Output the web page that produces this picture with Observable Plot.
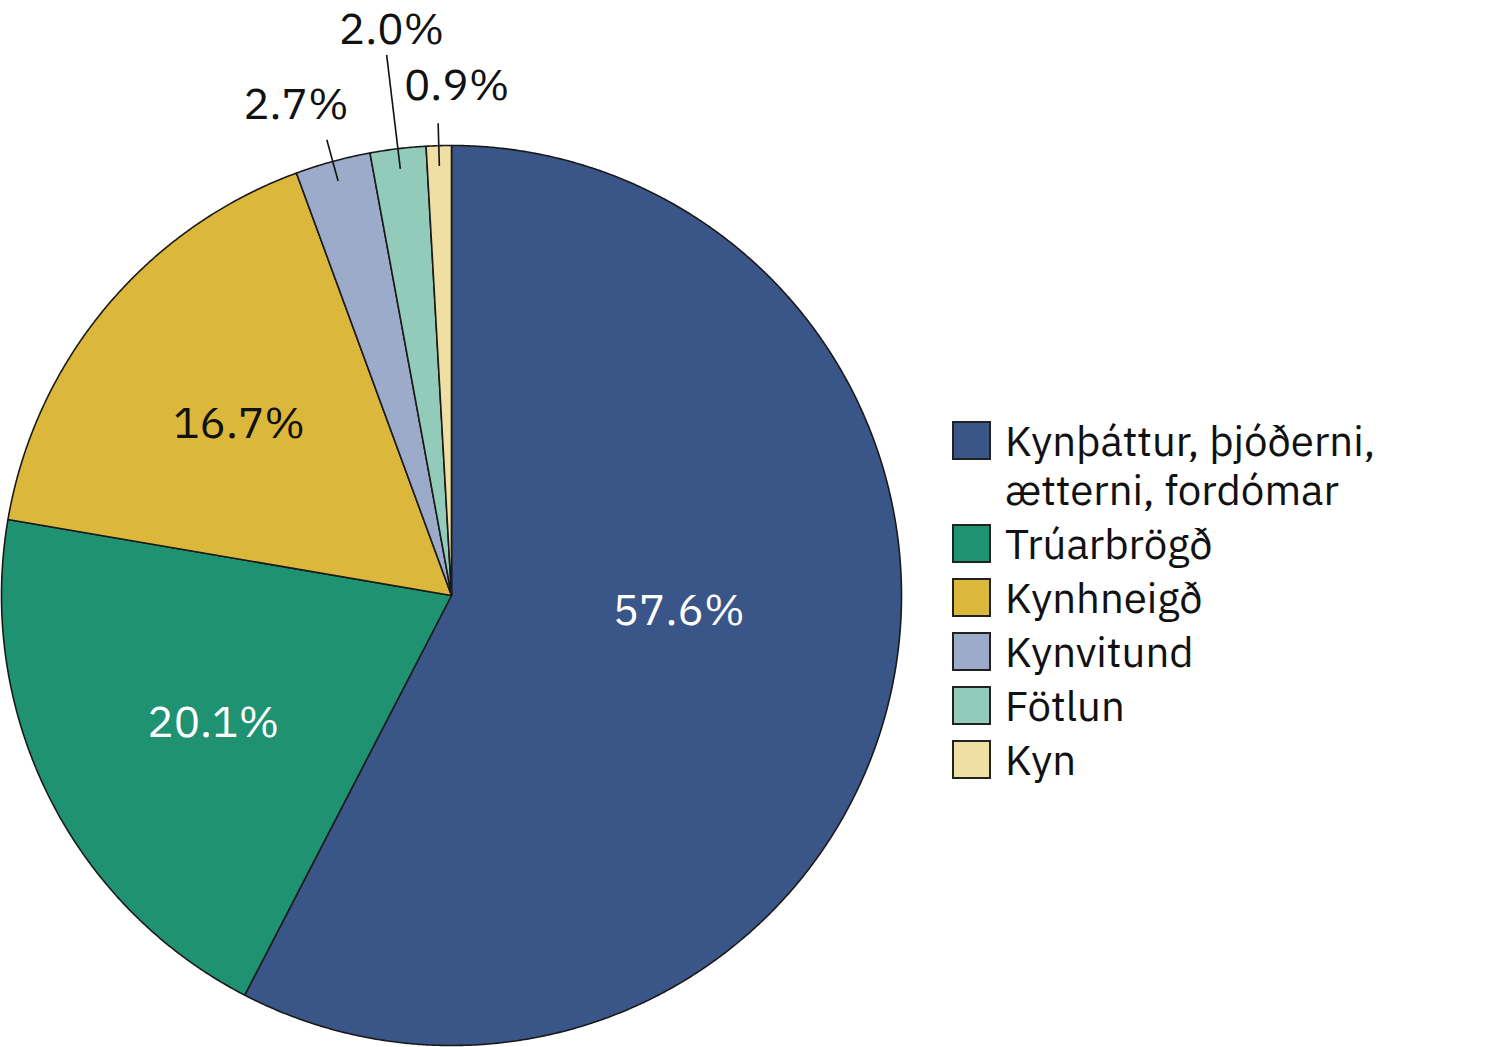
<!DOCTYPE html>
<html>
<head>
<meta charset="utf-8">
<script src="https://cdn.jsdelivr.net/npm/d3@7"></script>
<script src="https://cdn.jsdelivr.net/npm/@observablehq/plot@0.6"></script>
<style>
  html, body { margin: 0; padding: 0; background: #fff; }
  #wrap { position: relative; width: 1507px; height: 1047px; font-family: "IBM Plex Sans", "Noto Sans", sans-serif; }
  #legend { position: absolute; left: 952px; top: 416px; color: #111; font-size: 42px; line-height: 49px; }
  .item { display: flex; align-items: flex-start; margin-bottom: 5px; }
  .sw { width: 35px; height: 35px; border: 2px solid #222; margin-top: 5px; margin-right: 14px; flex: none; }
  .lbl { width: 420px; }
</style>
</head>
<body>
<div id="wrap"><div id="legend"></div></div>
<script>
// ---- data ----
const categories = ["Kynþáttur, þjóðerni, ætterni, fordómar", "Trúarbrögð", "Kynhneigð", "Kynvitund", "Fötlun", "Kyn"];
const shares = [57.6, 20.1, 16.7, 2.7, 2.0, 0.9];
const colors = ["#3a5587", "#1f9272", "#dbb83c", "#9babc9", "#93cbba", "#efdfa2"];
const legendLines = [["Kynþáttur, þjóðerni,", "ætterni, fordómar"], ["Trúarbrögð"], ["Kynhneigð"], ["Kynvitund"], ["Fötlun"], ["Kyn"]];

// ---- layout (not data) ----
const labelPlace = [
  {da: -9.9, r: 0.506, fill: "white"},
  {da: -1.6, r: 0.60, fill: "white"},
  {da: -0.8, r: 0.607, fill: "#111"},
  {da: -2.3, r: 1.143, fill: "#111", lead: [0.955, 1.05]},
  {da: 0.8, r: 1.265, fill: "#111", lead: [0.955, 1.21]},
  {da: 2.2, r: 1.133, fill: "#111", lead: [0.955, 1.05]}
];

const arcs = d3.pie().sort(null).value(d => d)(shares);
const rad = Math.PI / 180;

// slice outlines (points along each arc, computed from pie angles)
const polys = [];
arcs.forEach((a, i) => {
  const cat = categories[i];
  polys.push({cat, x: 0, y: 0});
  const n = Math.max(2, Math.ceil((a.endAngle - a.startAngle) / (0.25 * rad)));
  for (let k = 0; k <= n; k++) {
    const t = a.startAngle + (a.endAngle - a.startAngle) * k / n;
    polys.push({cat, x: Math.sin(t), y: Math.cos(t)});
  }
  polys.push({cat, x: 0, y: 0});
});

const labels = arcs.map((a, i) => {
  const mid = (a.startAngle + a.endAngle) / 2;
  const p = labelPlace[i];
  const t = mid + p.da * rad;
  return {i, text: shares[i].toFixed(1) + "%", x: p.r * Math.sin(t), y: p.r * Math.cos(t), fill: p.fill, mid, lead: p.lead};
});
const leads = labels.filter(d => d.lead).map(d => ({
  x1: d.lead[0] * Math.sin(d.mid), y1: d.lead[0] * Math.cos(d.mid),
  x2: d.lead[1] * Math.sin(d.mid), y2: d.lead[1] * Math.cos(d.mid)
}));

const font = '"IBM Plex Sans", "Noto Sans", sans-serif';
const chart = Plot.plot({
  width: 1507, height: 1047,
  marginTop: 0, marginBottom: 0, marginLeft: 0, marginRight: 0,
  x: {domain: [-1, 1], range: [1, 901], axis: null},
  y: {domain: [-1, 1], range: [1045, 145], axis: null},
  color: {domain: categories, range: colors},
  style: {fontFamily: font, background: "white"},
  marks: [
    Plot.line(polys, {x: "x", y: "y", z: "cat", fill: "cat", stroke: "#1a1a1a", strokeWidth: 1.6, strokeLinejoin: "round"}),
    Plot.link(leads, {x1: "x1", y1: "y1", x2: "x2", y2: "y2", stroke: "#111", strokeWidth: 1.6}),
    Plot.text(labels.filter(d => d.fill === "white"), {x: "x", y: "y", text: "text", fill: "white", fontSize: 44, textAnchor: "middle", lineAnchor: "middle"}),
    Plot.text(labels.filter(d => d.fill !== "white"), {x: "x", y: "y", text: "text", fill: "#111", fontSize: 44, textAnchor: "middle", lineAnchor: "middle"})
  ]
});
const wrap = document.getElementById("wrap");
wrap.insertBefore(chart, wrap.firstChild);

const legend = document.getElementById("legend");
categories.forEach((c, i) => {
  const item = document.createElement("div");
  item.className = "item";
  const sw = document.createElement("div");
  sw.className = "sw";
  sw.style.background = colors[i];
  const lb = document.createElement("div");
  lb.className = "lbl";
  lb.innerHTML = legendLines[i].join("<br>");
  item.appendChild(sw); item.appendChild(lb);
  legend.appendChild(item);
});
</script>
</body>
</html>
